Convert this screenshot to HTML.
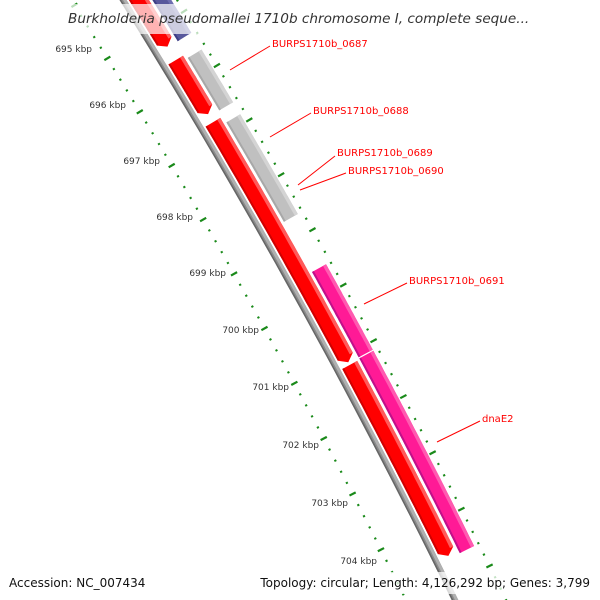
<!DOCTYPE html>
<html><head><meta charset="utf-8"><style>
html,body{margin:0;background:#fff;width:600px;height:600px;overflow:hidden}
svg{display:block}
text{font-family:"DejaVu Sans","Liberation Sans",sans-serif}
</style></head><body>
<svg id="s" width="600" height="600" viewBox="0 0 600 600" xmlns="http://www.w3.org/2000/svg">
<g id="g"></g>
<g id="lab" font-size="9" fill="#333" text-anchor="end">
<text x="92" y="52">695 kbp</text>
<text x="126" y="108">696 kbp</text>
<text x="160" y="164">697 kbp</text>
<text x="193" y="220">698 kbp</text>
<text x="226" y="276">699 kbp</text>
<text x="259" y="333">700 kbp</text>
<text x="289" y="390">701 kbp</text>
<text x="319" y="448">702 kbp</text>
<text x="348" y="506">703 kbp</text>
<text x="377" y="564">704 kbp</text>
</g>
<g stroke="#f00" stroke-width="1">
<line x1="230" y1="70" x2="270" y2="46"/>
<line x1="270" y1="137" x2="311" y2="113"/>
<line x1="298" y1="185" x2="335" y2="156"/>
<line x1="300" y1="190" x2="346" y2="173"/>
<line x1="364" y1="304" x2="407" y2="283"/>
<line x1="437" y1="442" x2="480" y2="421"/>
</g>
<g fill="#f00" font-size="10">
<text x="272" y="47">BURPS1710b_0687</text>
<text x="313" y="114">BURPS1710b_0688</text>
<text x="337" y="156">BURPS1710b_0689</text>
<text x="348" y="174">BURPS1710b_0690</text>
<text x="409" y="284">BURPS1710b_0691</text>
<text x="482" y="422">dnaE2</text>
</g>
<rect x="62" y="4" width="474" height="30" fill="#fff" fill-opacity="0.7"/>
<text x="68" y="23" font-size="13.6" font-style="italic" fill="#333">Burkholderia pseudomallei 1710b chromosome I, complete seque...</text>
<rect x="0" y="572" width="600" height="22" fill="#fff" fill-opacity="0.75"/>
<text x="9" y="587" font-size="12" fill="#111">Accession: NC_007434</text>
<text x="590" y="587" font-size="12" fill="#111" text-anchor="end">Topology: circular; Length: 4,126,292 bp; Genes: 3,799</text>
</svg>
<script>
(function(){
var A=[123,0],M=[299,300],C=[455,600];
function circ(a,b,c){var ax=a[0],ay=a[1],bx=b[0],by=b[1],cx=c[0],cy=c[1];
var d=2*(ax*(by-cy)+bx*(cy-ay)+cx*(ay-by));
var ux=((ax*ax+ay*ay)*(by-cy)+(bx*bx+by*by)*(cy-ay)+(cx*cx+cy*cy)*(ay-by))/d;
var uy=((ax*ax+ay*ay)*(cx-bx)+(bx*bx+by*by)*(ax-cx)+(cx*cx+cy*cy)*(bx-ax))/d;return [ux,uy];}
var O=circ(A,M,C),R=Math.hypot(A[0]-O[0],A[1]-O[1]);
function ang(p){return Math.atan2(p[1]-O[1],p[0]-O[0]);}
var a0=ang([143,36.5]),a1=ang([418,531]);
function P(k,off){var a=a0+(k-695)*(a1-a0)/9,r=R+off;return [O[0]+r*Math.cos(a),O[1]+r*Math.sin(a)];}
var g=document.getElementById('g'),NS='http://www.w3.org/2000/svg';
function poly(pts,fill){var e=document.createElementNS(NS,'polygon');e.setAttribute('points',pts.map(function(p){return p[0].toFixed(1)+','+p[1].toFixed(1)}).join(' '));e.setAttribute('fill',fill);g.appendChild(e);}
function band(k1,k2,r1,r2,fill,arrow){var pts=[],n=40,i,tip=arrow?0.1:0;
 var ke=k2-tip;
 for(i=0;i<=n;i++)pts.push(P(k1+(ke-k1)*i/n,r2));
 if(arrow)pts.push(P(k2,(r1+r2)/2));
 for(i=n;i>=0;i--)pts.push(P(k1+(ke-k1)*i/n,r1));
 poly(pts,fill);}
function gene(k1,k2,r1,r2,c,dk,lt,arrow){band(k1,k2,r1,r2,c,arrow);
 band(k1,k2-(arrow?0.1:0),r2-3.5,r2,lt,false);band(k1,k2-(arrow?0.1:0),r1,r1+2,dk,false);}
band(693,706,-3,3,'#8a8a8a',false);band(693,706,0,3,'#b0b0b0',false);band(693,706,-3,-1.5,'#666',false);
for(var t=6940;t<=7060;t+=2){var k=t/10,maj=(t%10===0);
 [-44,46].forEach(function(r){var l=maj?3.5:1.1;
  var p1=P(k,r-l),p2=P(k,r+l);var e=document.createElementNS(NS,'line');
  e.setAttribute('x1',p1[0]);e.setAttribute('y1',p1[1]);e.setAttribute('x2',p2[0]);e.setAttribute('y2',p2[1]);
  e.setAttribute('stroke','#1a8a1a');e.setAttribute('stroke-width',maj?2.2:2);g.appendChild(e);});}
gene(694,695.34,5,22,'#f00','#d00000','#ff5a5a',true);
gene(695.59,696.59,5,22,'#f00','#d00000','#ff5a5a',true);
gene(696.74,701.11,5,22,'#f00','#d00000','#ff5a5a',true);
gene(701.16,704.57,5,22,'#f00','#d00000','#ff5a5a',true);
gene(694,695.35,25,41,'#57579c','#3e3e85','#6d6db0',false);
gene(695.66,696.63,25,41,'#c0c0c0','#a8a8a8','#d4d4d4',false);
gene(696.85,698.67,25,41,'#c0c0c0','#a8a8a8','#d4d4d4',false);
gene(699.58,701.12,25,41,'#ff1a96','#c0108a','#ff5ab0',false);
gene(701.14,704.61,25,41,'#ff1a96','#c0108a','#ff5ab0',false);
gene(705.55,706.5,-14,-5,'#0000ee','#0000bb','#5a5aff',false);
})();
</script>
</body></html>
